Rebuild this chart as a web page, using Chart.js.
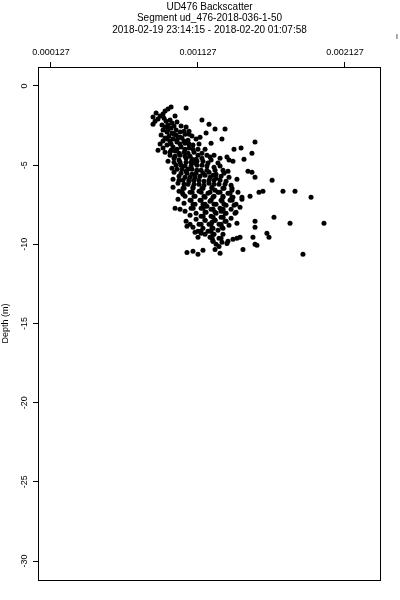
<!DOCTYPE html>
<html lang="en">
<head>
<meta charset="UTF-8">
<title>UD476 Backscatter</title>
<script src="https://cdn.jsdelivr.net/npm/chart.js"></script>
<style>
  body { margin: 0; background: #ffffff; }
  canvas { display: block; }
</style>
</head>
<body>
<canvas id="chart" width="400" height="600"></canvas>
<script>
// Text and ticks
const titleLines = ['UD476 Backscatter', 'Segment ud_476-2018-036-1-50', '2018-02-19 23:14:15 - 2018-02-20 01:07:58'];
const yTitle = 'Depth (m)';
const xTicks = [0.000127, 0.001127, 0.002127];
const yTicks = [0, -5, -10, -15, -20, -25, -30];

// Backscatter samples, one line per depth band
const backscatter = [
  // ~1.3 - 2.5 m
  0.000944, 0.001046, 0.000923, 0.000903, 0.000842, 0.000889, 0.000869, 0.000971, 0.000821, 0.000855,
  0.000896, 0.000835, 0.000910, 0.000937, 0.001154, 0.000821, 0.000950, 0.000984, 0.000882, 0.000923, 0.001202,
  // ~2.5 - 3.5 m
  0.000903, 0.000944, 0.001012, 0.001046, 0.000889, 0.000978, 0.001066, 0.001243, 0.001311, 0.000916,
  0.000950, 0.001005, 0.000876, 0.000930, 0.000978, 0.001039, 0.001086, 0.001182, 0.000903, 0.000957,
  0.001018, 0.001059, 0.001114, 0.001290, 0.000937,
  // ~3.5 - 4.4 m
  0.000984, 0.001039, 0.000869, 0.000916, 0.001093, 0.001216, 0.001515, 0.000957, 0.001012, 0.001066,
  0.001127, 0.001372, 0.001420, 0.000855, 0.000903, 0.000971, 0.001032, 0.001100, 0.001154, 0.001494,
  0.000937, 0.001005, 0.001073, 0.001188,
  // ~4.5 - 5.4 m
  0.000964, 0.001046, 0.001114, 0.001277, 0.001324, 0.001440, 0.001338, 0.000923, 0.001005, 0.001080,
  0.001161, 0.001216, 0.001263, 0.001365, 0.000978, 0.001039, 0.001120, 0.001188, 0.001236, 0.000950,
  0.001018, 0.001086, 0.001148, 0.001297, 0.001331, 0.001467, 0.001494,
  // ~5.4 - 6.3 m
  0.000964, 0.001052, 0.001114, 0.001202, 0.001250, 0.000998, 0.001073, 0.001141, 0.001209, 0.001284,
  0.001515, 0.000957, 0.001025, 0.001100, 0.001168, 0.001236, 0.001318, 0.001392, 0.001631, 0.000991,
  0.001059, 0.001134, 0.001202, 0.001270, 0.001352,
  // ~6.4 - 7.3 m
  0.000957, 0.001032, 0.001093, 0.001161, 0.001222, 0.001304, 0.001358, 0.001542, 0.001569, 0.001705,
  0.001787, 0.000998, 0.001073, 0.001134, 0.001195, 0.001263, 0.001331, 0.001399, 0.001039, 0.001107,
  0.001175, 0.001236, 0.001297, 0.001365, 0.001481, 0.001896, 0.000991, 0.001073, 0.001141, 0.001209,
  0.001284, 0.001345, 0.001426,
  // ~7.4 - 8.2 m
  0.001032, 0.001107, 0.001175, 0.001250, 0.001318, 0.001386, 0.000971, 0.001005, 0.001039, 0.001080,
  0.001148, 0.001216, 0.001277, 0.001352, 0.001413, 0.001114, 0.001182, 0.001250, 0.001318, 0.001386,
  0.001073, 0.001148, 0.001216,
  // ~8.3 - 9.2 m
  0.001284, 0.001352, 0.001644, 0.001114, 0.001175, 0.001243, 0.001318, 0.001046, 0.001073, 0.001134,
  0.001202, 0.001270, 0.001338, 0.001392, 0.001515, 0.001753, 0.001984, 0.001052, 0.001093, 0.001161,
  0.001229, 0.001297, 0.001515, 0.001127, 0.001195, 0.001263,
  // ~9.2 - 10.7 m
  0.001107, 0.001175, 0.001236, 0.001596, 0.001127, 0.001209, 0.001270, 0.001413, 0.001392, 0.001365,
  0.001501, 0.001610, 0.001229, 0.001331, 0.001324, 0.001250, 0.001515, 0.001528, 0.001270, 0.001243,
  0.001433, 0.001161, 0.001093, 0.001052, 0.001277, 0.001127, 0.001841,
  // dense core
  0.000923, 0.000964, 0.000991, 0.000889, 0.000944, 0.001059, 0.000998, 0.001107, 0.001046, 0.001175,
  0.001066, 0.001243, 0.001025, 0.001188, 0.001284, 0.001222, 0.001148,
  0.000923, 0.001032, 0.000964, 0.001066, 0.001005, 0.000916, 0.001141, 0.000984, 0.001032, 0.000944,
  0.001005, 0.001066, 0.001134, 0.000889, 0.000984, 0.001039, 0.001093, 0.001175, 0.000937, 0.000998,
  0.001127, 0.001236, 0.000971, 0.001039, 0.001086, 0.001154, 0.001209, 0.000964, 0.001046, 0.001120,
  0.001195, 0.001012, 0.001080, 0.001154, 0.001277, 0.000984, 0.001059, 0.001120, 0.001188, 0.001243,
  0.001012, 0.001086, 0.001161, 0.001229, 0.001304, 0.001039, 0.001107, 0.001250, 0.001338, 0.000998,
  0.001066, 0.001134, 0.001202, 0.001277, 0.001032, 0.001100, 0.001168, 0.001236, 0.001311, 0.001025,
  0.001093, 0.001154, 0.001222, 0.001297, 0.001358, 0.001019, 0.001087, 0.001148, 0.001209, 0.001277,
  0.001345, 0.001100, 0.001168, 0.001229, 0.001297, 0.001358, 0.001426, 0.001080, 0.001148, 0.001216,
  0.001291, 0.001359, 0.001093, 0.001161, 0.001236, 0.001304, 0.001372, 0.001094, 0.001162, 0.001230,
  0.001298, 0.001175, 0.001243, 0.001311, 0.001379, 0.001162, 0.001230, 0.001298, 0.001175, 0.001243,
  0.001311, 0.001148, 0.001216, 0.001284, 0.001222, 0.001290, 0.001147, 0.001215, 0.001229, 0.001297,
  0.001223, 0.001284, 0.001229, 0.001290
];

// Depth (m) of each sample above, same layout
const depth = [
  -1.33, -1.39, -1.46, -1.58, -1.71, -1.77, -1.90, -1.90, -1.96, -2.09,
  -2.03, -2.22, -2.22, -2.15, -2.15, -2.41, -2.34, -2.28, -2.47, -2.47, -2.41,

  -2.59, -2.66, -2.53, -2.59, -2.78, -2.78, -2.85, -2.72, -2.72, -2.91,
  -2.97, -2.91, -3.10, -3.16, -3.10, -3.04, -3.16, -2.97, -3.29, -3.35,
  -3.29, -3.42, -3.35, -3.35, -3.48,

  -3.54, -3.61, -3.67, -3.73, -3.73, -3.61, -3.54, -3.86, -3.86, -3.92,
  -3.99, -3.99, -3.92, -4.05, -4.18, -4.11, -4.18, -4.18, -4.24, -4.24,
  -4.37, -4.37, -4.43, -4.37,

  -4.56, -4.56, -4.62, -4.56, -4.49, -4.62, -4.68, -4.75, -4.81, -4.81,
  -4.75, -4.68, -4.87, -4.75, -5.00, -5.06, -5.00, -5.06, -5.13, -5.19,
  -5.25, -5.25, -5.32, -5.32, -5.38, -5.38, -5.44,

  -5.44, -5.51, -5.51, -5.44, -5.57, -5.70, -5.76, -5.70, -5.76, -5.70,
  -5.76, -5.89, -5.95, -5.95, -6.01, -5.95, -6.01, -5.89, -5.95, -6.14,
  -6.20, -6.20, -6.14, -6.20, -6.27,

  -6.39, -6.46, -6.39, -6.46, -6.39, -6.46, -6.58, -6.71, -6.65, -6.65,
  -6.65, -6.65, -6.71, -6.65, -6.77, -6.71, -6.77, -6.71, -6.96, -6.96,
  -7.03, -6.96, -7.03, -7.03, -6.96, -7.03, -7.15, -7.22, -7.22, -7.28,
  -7.22, -7.22, -7.15,

  -7.41, -7.47, -7.47, -7.47, -7.53, -7.47, -7.72, -7.78, -7.91, -7.72,
  -7.72, -7.78, -7.72, -7.78, -7.66, -8.04, -7.97, -8.04, -8.04, -7.97,
  -8.16, -8.23, -8.23,

  -8.29, -8.35, -8.29, -8.42, -8.48, -8.48, -8.54, -8.54, -8.73, -8.73,
  -8.73, -8.73, -8.80, -8.67, -8.54, -8.67, -8.67, -8.86, -8.92, -8.99,
  -8.99, -8.99, -8.92, -9.18, -9.18, -9.11,

  -9.24, -9.37, -9.37, -9.30, -9.56, -9.56, -9.62, -9.56, -9.62, -9.68,
  -9.56, -9.56, -9.81, -9.81, -9.94, -10.00, -10.00, -10.06, -10.13, -10.32,
  -10.32, -10.38, -10.44, -10.51, -10.57, -10.63, -10.63,

  -2.66, -2.53, -3.23, -3.48, -4.05, -4.24, -4.68, -4.87, -5.38, -5.63,
  -6.01, -6.58, -6.84, -7.59, -7.91, -8.61, -9.30,
  -2.78, -2.85, -3.04, -3.04, -3.23, -3.35, -3.23, -3.42, -3.48, -3.67,
  -3.67, -3.67, -3.67, -3.92, -3.99, -3.99, -3.99, -3.99, -4.18, -4.24,
  -4.37, -4.37, -4.43, -4.43, -4.62, -4.56, -4.49, -4.81, -4.81, -4.75,
  -4.87, -5.00, -5.06, -5.00, -5.06, -5.25, -5.25, -5.32, -5.32, -5.32,
  -5.51, -5.57, -5.51, -5.63, -5.51, -5.76, -5.76, -5.82, -5.76, -5.95,
  -5.95, -5.95, -5.95, -5.95, -6.20, -6.20, -6.27, -6.20, -6.20, -6.46,
  -6.46, -6.46, -6.46, -6.46, -6.46, -6.71, -6.71, -6.71, -6.71, -6.71,
  -6.77, -6.96, -6.96, -7.03, -6.96, -7.03, -7.03, -7.22, -7.22, -7.22,
  -7.28, -7.22, -7.47, -7.47, -7.47, -7.47, -7.53, -7.72, -7.72, -7.78,
  -7.78, -7.97, -7.97, -8.04, -8.04, -8.23, -8.29, -8.29, -8.48, -8.48,
  -8.54, -8.73, -8.73, -8.73, -8.99, -8.92, -9.18, -9.18, -9.37, -9.37,
  -9.62, -9.62, -9.81, -9.87
];

const FONT = "'Liberation Sans', Arial, Helvetica, sans-serif";

// Box around the plot region plus the clipped mark at the top right
const framePlugin = {
  id: 'frame',
  afterDraw(chart) {
    const { ctx, chartArea: a } = chart;
    ctx.save();
    ctx.strokeStyle = '#000';
    ctx.lineWidth = 1;
    ctx.strokeRect(a.left + 0.5, a.top + 0.5, a.right - a.left - 1, a.bottom - a.top);
    ctx.fillStyle = '#000';
    ctx.font = '7px ' + FONT;
    ctx.textBaseline = 'middle';
    ctx.fillText('I', 396, 37);
    ctx.restore();
  }
};

new Chart(document.getElementById('chart'), {
  type: 'scatter',
  data: {
    datasets: [{
      data: backscatter.map((x, i) => ({ x: x, y: depth[i] })),
      backgroundColor: '#000',
      borderWidth: 0,
      pointRadius: 2.5,
      pointHoverRadius: 2.5
    }]
  },
  options: {
    responsive: false,
    animation: false,
    layout: { padding: { left: 0, right: 19, top: 0, bottom: 20 } },
    plugins: {
      legend: { display: false },
      tooltip: { enabled: false },
      title: {
        display: true,
        text: titleLines,
        fullSize: false,
        color: '#000',
        font: { family: FONT, size: 10, weight: 'normal', lineHeight: 1.15 },
        padding: { top: 1, bottom: 0 }
      }
    },
    scales: {
      x: {
        type: 'linear',
        position: 'top',
        min: 0.0000386,
        max: 0.002372,
        afterFit(scale) { scale.height = 31.5; },
        afterBuildTicks(scale) { scale.ticks = xTicks.map(v => ({ value: v })); },
        border: { display: false },
        grid: { drawOnChartArea: false, drawTicks: true, tickLength: 5, color: '#000' },
        ticks: {
          color: '#000',
          font: { family: FONT, size: 9 },
          padding: 4.5,
          maxRotation: 0,
          callback: v => v.toFixed(6)
        }
      },
      y: {
        type: 'linear',
        min: -31.2,
        max: 1.2,
        afterFit(scale) { scale.width = 38; },
        afterBuildTicks(scale) { scale.ticks = yTicks.map(v => ({ value: v })); },
        border: { display: false },
        grid: { drawOnChartArea: false, drawTicks: true, tickLength: 5, color: '#000' },
        title: {
          display: true,
          text: yTitle,
          color: '#000',
          font: { family: FONT, size: 9 },
          padding: { top: 0.5, bottom: 0 }
        },
        ticks: {
          color: '#000',
          font: { family: FONT, size: 9 },
          padding: 1.5,
          minRotation: 90,
          maxRotation: 90,
          crossAlign: 'center',
          callback: v => String(v)
        }
      }
    }
  },
  plugins: [framePlugin]
});
</script>
</body>
</html>
